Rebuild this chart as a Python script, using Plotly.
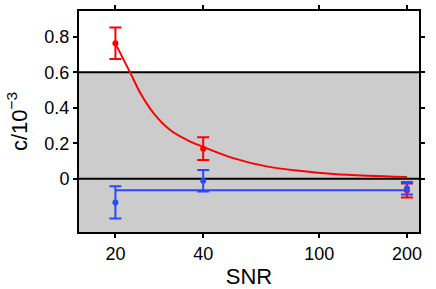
import plotly.graph_objects as go
import math

# data
snr = [20, 40, 200]
red_c = [0.764, 0.170, -0.066]
red_err = [0.089, 0.064, 0.039]
blue_c = [-0.133, -0.011, -0.053]
blue_err = [0.091, 0.061, 0.035]

curve_snr = [20, 22.5, 24.4, 27.1, 30.9, 35.3, 40, 51, 66, 87, 112, 147, 200]
curve_c = [0.762, 0.597, 0.481, 0.368, 0.274, 0.218, 0.180, 0.115, 0.070, 0.044, 0.027, 0.017, 0.010]

blue_fit_snr = [20, 200]
blue_fit_c = [-0.065, -0.065]

x_ticks = [20, 40, 100, 200]
y_ticks = [0, 0.2, 0.4, 0.6, 0.8]
y_tick_labels = ["0", "0.2", "0.4", "0.6", "0.8"]

RED = "#ff0000"
BLUE = "#2a48ff"
FONT = "Liberation Sans, Arial, sans-serif"

fig = go.Figure()

fig.add_trace(go.Scatter(x=curve_snr, y=curve_c, mode="lines",
                         line=dict(color=RED, width=2, shape="spline", smoothing=1),
                         hoverinfo="skip", showlegend=False))
fig.add_trace(go.Scatter(x=blue_fit_snr, y=blue_fit_c, mode="lines",
                         line=dict(color=BLUE, width=2),
                         hoverinfo="skip", showlegend=False))
fig.add_trace(go.Scatter(x=snr, y=red_c, mode="markers",
                         marker=dict(color=RED, size=6),
                         error_y=dict(type="data", array=red_err, visible=True,
                                      color=RED, thickness=2, width=6),
                         showlegend=False))
fig.add_trace(go.Scatter(x=snr, y=blue_c, mode="markers",
                         marker=dict(color=BLUE, size=6),
                         error_y=dict(type="data", array=blue_err, visible=True,
                                      color=BLUE, thickness=2, width=6),
                         showlegend=False))

# shaded band and reference lines
fig.add_shape(type="rect", xref="paper", yref="y", x0=0, x1=1, y0=-0.5, y1=0.6,
              fillcolor="#cccccc", line=dict(width=0), layer="below")
for yv in [0.6, 0.0]:
    fig.add_shape(type="line", xref="paper", yref="y", x0=0, x1=1, y0=yv, y1=yv,
                  line=dict(color="black", width=2), layer="below")

fig.update_layout(
    width=436, height=289,
    margin=dict(l=79, r=17, t=11, b=57),
    paper_bgcolor="white", plot_bgcolor="white",
    font=dict(family=FONT, size=18, color="black"),
    xaxis=dict(type="log", range=[math.log10(15), math.log10(220)],
               tickvals=x_ticks, ticktext=[str(v) for v in x_ticks],
               showline=True, linecolor="black", linewidth=2, mirror="ticks",
               ticks="outside", ticklen=4, tickwidth=1.5, tickcolor="black",
               showgrid=False, zeroline=False, automargin=False,
               title=dict(text="SNR", standoff=8)),
    yaxis=dict(range=[-0.30, 0.946],
               tickvals=y_ticks, ticktext=y_tick_labels,
               showline=True, linecolor="black", linewidth=2, mirror="ticks",
               ticks="outside", ticklen=4, tickwidth=1.5, tickcolor="black",
               showgrid=False, zeroline=False, automargin=False,
               title=dict(text="c/10<sup>\u22123</sup>", standoff=11)),
)

fig.write_html("out.html", config={"displayModeBar": False},
               post_script="document.body.style.margin='0';document.body.style.overflow='hidden';")
